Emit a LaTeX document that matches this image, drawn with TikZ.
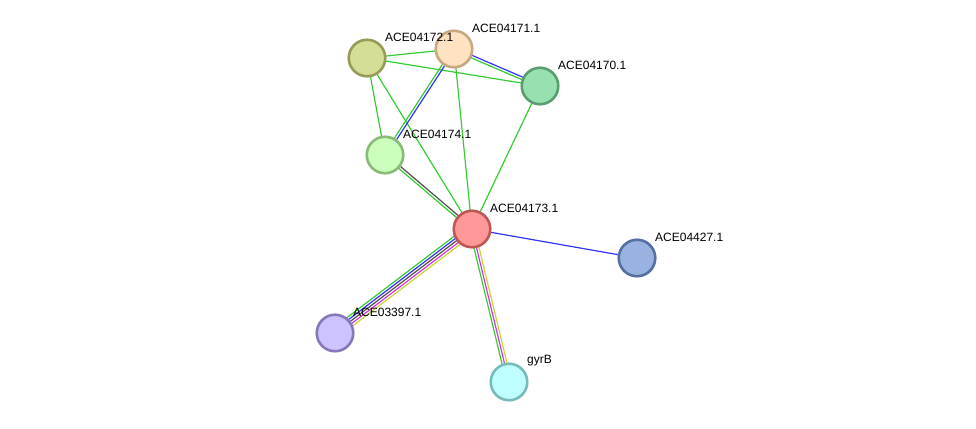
\documentclass[tikz,border=0pt]{standalone}
\usepackage{fontspec}
\setmainfont{Liberation Sans}
\usetikzlibrary{calc}
\pgfdeclarelayer{bg}
\pgfsetlayers{bg,main}
\definecolor{eg}{RGB}{51,204,51}
\definecolor{eb}{RGB}{51,51,255}
\definecolor{ek}{RGB}{80,80,80}
\definecolor{em}{RGB}{221,51,221}
\definecolor{ey}{RGB}{200,214,50}
\tikzset{
  prot/.style={circle,minimum size=36.5pt,inner sep=0pt,line width=2.6pt},
  lab/.style={anchor=west,font=\fontsize{12}{14}\selectfont,inner sep=0pt},
  edgeln/.style={line width=1.2pt}
}
\newcommand\edgeline[4]{\draw[edgeln,#4] ($(#1)!#3!90:(#2)$) -- ($(#2)!#3!-90:(#1)$);}
\begin{document}
\begin{tikzpicture}[x=1pt,y=-1pt]
\useasboundingbox (0,0) rectangle (976,428);
\node[prot,fill={rgb,255:red,212;green,222;blue,150},draw={rgb,255:red,152;green,154;blue,88}] (n72) at (367,58) {};
\node[prot,fill={rgb,255:red,254;green,226;blue,194},draw={rgb,255:red,200;green,168;blue,128}] (n71) at (454,49) {};
\node[prot,fill={rgb,255:red,153;green,224;blue,176},draw={rgb,255:red,90;green,158;blue,112}] (n70) at (540,86) {};
\node[prot,fill={rgb,255:red,204;green,255;blue,187},draw={rgb,255:red,136;green,187;blue,119}] (n74) at (385,155) {};
\node[prot,fill={rgb,255:red,255;green,153;blue,153},draw={rgb,255:red,192;green,85;blue,85}] (n73) at (472,229) {};
\node[prot,fill={rgb,255:red,153;green,179;blue,224},draw={rgb,255:red,85;green,112;blue,160}] (n27) at (637,258) {};
\node[prot,fill={rgb,255:red,204;green,195;blue,255},draw={rgb,255:red,136;green,119;blue,187}] (n97) at (335,333) {};
\node[prot,fill={rgb,255:red,192;green,255;blue,255},draw={rgb,255:red,119;green,187;blue,187}] (ngy) at (509,382) {};

\node[lab] (l72) at (385,37) {ACE04172.1};
\node[lab] (l71) at (472,28) {ACE04171.1};
\node[lab] (l70) at (558,65) {ACE04170.1};
\node[lab] (l74) at (403,134) {ACE04174.1};
\node[lab] (l73) at (490,208) {ACE04173.1};
\node[lab] (l27) at (655,237) {ACE04427.1};
\node[lab] (l97) at (353,312) {ACE03397.1};
\node[lab] (lgy) at (527,361) {gyrB};

\begin{pgfonlayer}{bg}
\edgeline{n72}{n71}{0pt}{eg}
\edgeline{n72}{n70}{0pt}{eg}
\edgeline{n72}{n74}{0pt}{eg}
\edgeline{n72}{n73}{0pt}{eg}
\edgeline{n71}{n70}{1.3pt}{eb}
\edgeline{n71}{n70}{-1.3pt}{eg}
\edgeline{n71}{n74}{1.3pt}{eb}
\edgeline{n71}{n74}{-1.3pt}{eg}
\edgeline{n71}{n73}{0pt}{eg}
\edgeline{n70}{n73}{0pt}{eg}
\edgeline{n74}{n73}{1.3pt}{ek}
\edgeline{n74}{n73}{-1.3pt}{eg}
\edgeline{n73}{n97}{-5pt}{eg}
\edgeline{n73}{n97}{-2.5pt}{eb}
\edgeline{n73}{n97}{0pt}{ek}
\edgeline{n73}{n97}{2.5pt}{em}
\edgeline{n73}{n97}{5pt}{ey}
\edgeline{n73}{ngy}{-2.5pt}{eg}
\edgeline{n73}{ngy}{0pt}{em}
\edgeline{n73}{ngy}{2.5pt}{ey}
\edgeline{n73}{n27}{0pt}{eb}
\end{pgfonlayer}
\end{tikzpicture}
\end{document}
